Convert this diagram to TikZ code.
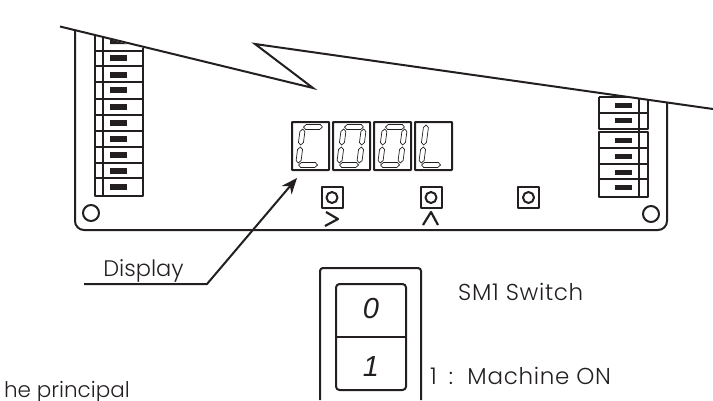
\documentclass[tikz,border=0pt]{standalone}
\usepackage{fontspec}
\setmainfont{Poppins Light}
\newfontfamily\digitfont{Liberation Sans}
\usetikzlibrary{arrows.meta}
\definecolor{ink}{HTML}{231F20}
\tikzset{
  x=1pt,y=-1pt,
  ln/.style={draw=ink,line width=2pt,line join=round},
  seg/.style={draw=ink,line width=0.7pt,line join=round},
  lbl/.style={text=ink,font=\fontsize{22.5}{26}\selectfont,inner sep=0pt},
  lblw/.style={text=ink,font=\fontsize{23}{26}\selectfont\addfontfeature{LetterSpace=3},inner sep=0pt},
  lblc/.style={text=ink,font=\fontsize{21.5}{26}\selectfont,inner sep=0pt},
  ital/.style={text=ink,font=\fontsize{29}{32}\selectfont\digitfont\itshape,inner sep=0pt}
}
\newcommand{\segT}{\draw[seg] (-7,-21.5)--(7,-21.5)--(9.5,-19)--(7,-16.5)--(-7,-16.5)--(-9.5,-19)--cycle;}
\newcommand{\segB}{\draw[seg] (-7,21.5)--(7,21.5)--(9.5,19)--(7,16.5)--(-7,16.5)--(-9.5,19)--cycle;}
\newcommand{\segV}[3]{\draw[seg] (#1,#2)--(#1+2.5,#2+2.5)--(#1+2.5,#3-2.5)--(#1,#3)--(#1-2.5,#3-2.5)--(#1-2.5,#2+2.5)--cycle;}
\begin{document}
\begin{tikzpicture}
\useasboundingbox (0,0) rectangle (713,400);
% board outline
\draw[ln,rounded corners=9pt] (75,31) -- (75,230) -- (667,230) -- (667,103);
% broken edge
\draw[ln,line join=miter] (60,26.5) -- (313,88) -- (255,44) -- (713,109);
% left terminal block
\draw[ln] (95,36) -- (95,196) -- (143,196) -- (143,48);
\draw[ln] (103,38) -- (103,196);
\foreach \y in {51,66,82,99,115,131,147,163,178}{\draw[ln] (95,\y) -- (143,\y);}
\fill[ink] (110,39.5) -- (127,44) -- (110,44) -- cycle;
\foreach \y in {58,75,90,107,123,139,155,171,187}{\fill[ink] (110,\y-3) rectangle (127,\y+3);}
% right terminal block
\draw[ln] (599,97) -- (630,97);
\draw[ln] (599,97) -- (599,129) -- (648,129) -- (648,99);
\draw[ln] (599,132) -- (648,132) -- (648,197) -- (599,197) -- cycle;
\draw[ln] (639,98) -- (639,197);
\foreach \y in {113,148,164,179}{\draw[ln] (599,\y) -- (648,\y);}
\foreach \y in {105,120,140,156,172,187}{\fill[ink] (615,\y-2.5) rectangle (632,\y+2.5);}
% display
\foreach \x in {292,333,374,415}{
  \draw[ln,rounded corners=0.5pt] (\x,122) rectangle (\x+37,170);
}
\begin{scope}[shift={(310.5,146)},xslant=0.13]
  \segT \segB \segV{-10}{-17}{-1} \segV{-10}{1}{17}
\end{scope}
\foreach \x in {351.5,392.5}{
\begin{scope}[shift={(\x,146)},xslant=0.13]
  \segT \segB \segV{-10}{-17}{-1} \segV{-10}{1}{17} \segV{10}{-17}{-1} \segV{10}{1}{17}
\end{scope}}
\begin{scope}[shift={(433.5,146)},xslant=0.13]
  \segB \segV{-10}{-21}{-1} \segV{-10}{1}{17}
\end{scope}
% mounting holes
\draw[ln] (91,213) circle (8);
\draw[ln] (651,214) circle (8);
% buttons
\foreach \x in {332,431,528.5}{
  \draw[ln] (\x-10.5,187) rectangle (\x+10.5,208);
  \draw[ln] (\x,197.5) circle (5.5);
}
\draw[ln,line width=2.2pt] (326,212) -- (338,219) -- (325,226);
\draw[ln,line width=2.2pt] (423,225) -- (431,212) -- (438,225);
% display pointer
\coordinate (tip) at (297,178);
\coordinate (elbow) at (207,284);
\coordinate (tail) at (84,284);
\draw[ln,-{Stealth[length=16pt,width=13pt]}] (tail) -- (elbow) -- (tip);
\node[lbl,anchor=base] (dsp) at (143.5,276) {Display};
% SM1 switch
\draw[ln,rounded corners=3pt] (320,400) -- (320,268) -- (421,268) -- (421,400);
\draw[ln,rounded corners=3.5pt] (336,284) rectangle (406,390);
\draw[ln] (336,337) -- (406,337);
\node[ital] (zero) at (371,309) {0};
\node[ital] (one) at (371,367) {1};
\node[lblw,anchor=base west] (sm) at (458,300.5) {SM1 Switch};
\node[lblw,anchor=base west] (on) at (430,384) {1\hspace{5pt} :\hspace{5pt} Machine ON};
\node[lblc,anchor=base east] (pr) at (130,397) {he principal};
\end{tikzpicture}
\end{document}
